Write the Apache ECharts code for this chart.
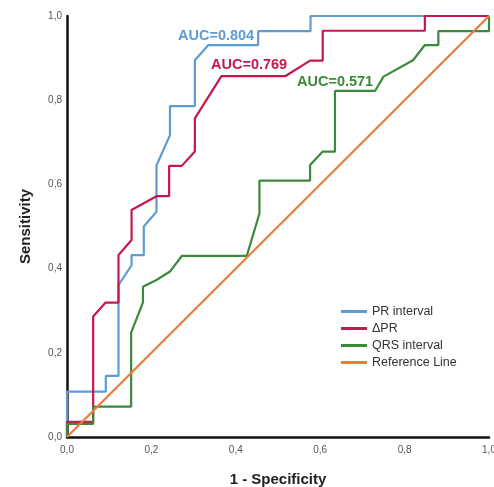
<!DOCTYPE html>
<html>
<head>
<meta charset="utf-8">
<script src="https://cdn.jsdelivr.net/npm/echarts@6/dist/echarts.min.js"></script>
<style>
  html, body { margin: 0; padding: 0; background: #fff; }
  #chart { width: 494px; height: 487px; }
</style>
</head>
<body>
<div id="chart"></div>
<script>
// ROC curves: [1 - specificity, sensitivity] steps
const prInterval = [
  [0, 0], [0, 0.108], [0.092, 0.108], [0.092, 0.145], [0.122, 0.145], [0.122, 0.361],
  [0.153, 0.408], [0.153, 0.432], [0.182, 0.432], [0.182, 0.5], [0.212, 0.535],
  [0.212, 0.645], [0.244, 0.717], [0.244, 0.786], [0.303, 0.786], [0.303, 0.895],
  [0.335, 0.931], [0.453, 0.931], [0.453, 0.964], [0.577, 0.964], [0.577, 1], [1, 1]
];
const deltaPR = [
  [0, 0], [0, 0.036], [0.062, 0.036], [0.062, 0.286], [0.091, 0.319], [0.122, 0.319],
  [0.122, 0.432], [0.153, 0.468], [0.153, 0.539], [0.212, 0.572], [0.242, 0.572],
  [0.242, 0.644], [0.272, 0.644], [0.303, 0.678], [0.303, 0.757], [0.366, 0.857],
  [0.517, 0.857], [0.576, 0.894], [0.606, 0.894], [0.606, 0.965], [0.848, 0.965],
  [0.848, 1], [1, 1]
];
const qrsInterval = [
  [0, 0], [0, 0.031], [0.062, 0.031], [0.062, 0.072], [0.152, 0.072], [0.152, 0.248],
  [0.18, 0.32], [0.18, 0.357], [0.212, 0.373], [0.244, 0.393], [0.272, 0.43],
  [0.426, 0.43], [0.456, 0.531], [0.456, 0.609], [0.576, 0.609], [0.576, 0.646],
  [0.606, 0.678], [0.635, 0.678], [0.635, 0.822], [0.73, 0.822], [0.75, 0.856],
  [0.82, 0.895], [0.848, 0.931], [0.88, 0.931], [0.88, 0.964], [1, 0.964], [1, 1]
];
const referenceLine = [[0, 0], [1, 1]];

const seriesNames = ['PR interval', 'ΔPR', 'QRS interval', 'Reference Line'];
const seriesColors = ['#5f9bd3', '#c8174b', '#3b8a3b', '#e87d3e'];
const aucLabels = ['AUC=0.804', 'AUC=0.769', 'AUC=0.571'];

const chart = echarts.init(document.getElementById('chart'));

const tickFmt = v => v.toFixed(1).replace('.', ',');

const lineSeries = [prInterval, deltaPR, qrsInterval, referenceLine].map((d, i) => ({
  name: seriesNames[i],
  type: 'line',
  data: d,
  showSymbol: false,
  symbol: 'none',
  silent: true,
  lineStyle: { color: seriesColors[i], width: 2.2 },
  itemStyle: { color: seriesColors[i] }
}));

chart.setOption({
  animation: false,
  backgroundColor: '#fff',
  grid: { left: 67, right: 5, top: 16, bottom: 50, outerBoundsMode: 'none', containLabel: false },
  xAxis: {
    type: 'value', min: 0, max: 1, interval: 0.2,
    name: '1 - Specificity', nameLocation: 'middle', nameGap: 35,
    nameTextStyle: { fontFamily: 'Liberation Sans', fontWeight: 'bold', fontSize: 15, color: '#222' },
    axisLine: { lineStyle: { color: '#111', width: 2.5 } },
    axisTick: { show: false },
    splitLine: { show: false },
    axisLabel: { formatter: tickFmt, fontFamily: 'Liberation Sans', fontSize: 10, color: '#555', margin: 8 }
  },
  yAxis: {
    type: 'value', min: 0, max: 1, interval: 0.2,
    name: 'Sensitivity', nameLocation: 'middle', nameGap: 34, nameRotate: 90,
    nameTextStyle: { fontFamily: 'Liberation Sans', fontWeight: 'bold', fontSize: 15, color: '#222' },
    axisLine: { show: true, lineStyle: { color: '#111', width: 2.5 } },
    axisTick: { show: false },
    splitLine: { show: false },
    axisLabel: { formatter: tickFmt, fontFamily: 'Liberation Sans', fontSize: 10, color: '#555', margin: 5 }
  },
  legend: {
    orient: 'vertical', left: 336, top: 300,
    icon: 'rect', itemWidth: 26, itemHeight: 3, itemGap: 4,
    selectedMode: false,
    textStyle: { fontFamily: 'Liberation Sans', fontSize: 12.5, color: '#333', lineHeight: 13 },
    data: seriesNames
  },
  graphic: aucLabels.map((t, i) => ({
    type: 'text',
    x: [178, 211, 297][i],
    y: [36, 65, 82][i],
    style: {
      text: t,
      fill: seriesColors[i],
      font: 'bold 14.5px "Liberation Sans"',
      textVerticalAlign: 'middle'
    }
  })),
  series: lineSeries
});
</script>
</body>
</html>
